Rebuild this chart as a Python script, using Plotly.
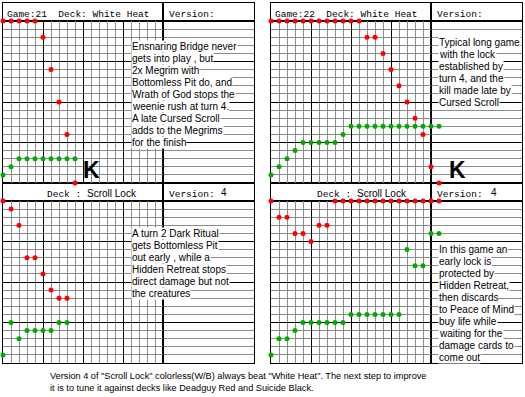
import plotly.graph_objects as go

W, H = 525, 397

# ---------------- data (life per turn) ----------------
g21_white_heat_red = [20, 20, 20, 20, 20, 18, 14, 10, 6, 0]
g21_white_heat_green = [1, 2, 3, 3, 3, 3, 3, 3, 3, 3]
g22_white_heat_red = [20, 20, 20, 20, 20, 20, 20, 20, 20, 20, 20, 20,
                      18, 18, 16, 14, 12, 10, 8, 6, 2, 0]
g22_white_heat_green = [1, 2, 3, 4, 5, 5, 5, 5, 5, 6, 7, 7, 7, 7, 7, 7,
                        7, 7, 7, 7, 7, 7]
g21_scroll_lock_red = [20, 19, 17, 13, 13, 11, 9, 8, 8]
g21_scroll_lock_green = [1, 5, 3, 4, 4, 4, 4, 5, 5]
g22_scroll_lock_red = [20, 18, 18, 16, 16, 15, 17, 17, 20, 20, 20, 20, 20,
                       20, 20, 20, 20, 20, 20, 20, 20, 20]
g22_scroll_lock_green = [1, 3, 3, 4, 5, 5, 5, 5, 5, 5, 6, 6, 6, 6, 6, 6, 6,
                         14, 12, 12, 16, 16]

top_header_left = ["Game:21  Deck: White Heat", "Game:22  Deck: White Heat"]
bottom_deck_label = "Deck :"
bottom_deck_name = "Scroll Lock"
version_label = "Version:"
bottom_version = "4"

notes_g21_top = ["Ensnaring Bridge never", "gets into play , but", "2x Megrim with",
                 "Bottomless Pit do, and", "Wrath of God stops the",
                 "weenie rush at turn 4.", "A late Cursed Scroll",
                 "adds to the Megrims", "for the finish"]
notes_g22_top = ["Typical long game", "with the lock", "established by",
                 "turn 4, and the", "kill made late by", "Cursed Scroll"]
notes_g21_bottom = ["A turn 2 Dark Ritual", "gets Bottomless Pit",
                    "out early , while a", "Hidden Retreat stops",
                    "direct damage but not", "the creatures"]
notes_g22_bottom = ["In this game an", "early lock is", "protected by",
                    "Hidden Retreat,", "then discards", "to Peace of Mind",
                    "buy life while", "waiting for the", "damage cards to",
                    "come out"]
caption_lines = ['Version 4 of "Scroll Lock" colorless(W/B) always beat "White Heat". The next step to improve',
                 'it is to tune it against decks like Deadguy Red and Suicide Black.']

RED = "#ff0000"
GREEN = "#00aa00"
GRAY = "#8c8c8c"
BLACK = "#000000"

# ---------------- layout geometry (pixels) ----------------
COL = 8           # pixels per turn column
GRID_W = 160      # 20 columns
TEXT_W = 91
HEAD_H = 18
GRID_H = 162

panels = [
    dict(x0=3, y0=3, red=g21_white_heat_red, green=g21_white_heat_green,
         top=True, head=top_header_left[0], notes=notes_g21_top,
         note_xy=(130.7, 46.7), k=(91, 170)),
    dict(x0=271, y0=3, red=g22_white_heat_red, green=g22_white_heat_green,
         top=True, head=top_header_left[1], notes=notes_g22_top,
         note_xy=(437.7, 42.7), k=(457, 170)),
    dict(x0=3, y0=183, red=g21_scroll_lock_red, green=g21_scroll_lock_green,
         top=False, notes=notes_g21_bottom, note_xy=(130.7, 233.3),
         deck_xy=(82.5, 85), ver_x=219),
    dict(x0=271, y0=183, red=g22_scroll_lock_red, green=g22_scroll_lock_green,
         top=False, notes=notes_g22_bottom, note_xy=(437.7, 249),
         deck_xy=(352.5, 354.7), ver_x=488.7),
]


def pxx(x):
    return x / W


def pxy(y):
    return 1 - y / H


fig = go.Figure()
layout = dict(width=W, height=H, margin=dict(l=0, r=0, t=0, b=0),
              autosize=False, showlegend=False, paper_bgcolor="white",
              plot_bgcolor="rgba(0,0,0,0)", hovermode=False)

box = dict(showline=True, mirror=True, linecolor=BLACK, linewidth=1,
           showticklabels=False, ticks="", zeroline=False, fixedrange=True)


def axname(kind, n):
    return kind + ("axis" if n == 1 else "axis%d" % n)


def ref(kind, n):
    return kind + ("" if n == 1 else str(n))


def add_sub(n, xdom, ydom, xa, ya, base=box):
    layout[axname("x", n)] = dict(base, domain=xdom, anchor=ref("y", n), **xa)
    layout[axname("y", n)] = dict(base, domain=ydom, anchor=ref("x", n), **ya)
    fig.add_trace(go.Scatter(x=[], y=[], xaxis=ref("x", n), yaxis=ref("y", n),
                             showlegend=False))


grid_y = dict(range=[0, 20], showgrid=True, gridcolor=BLACK, gridwidth=1,
              dtick=5, tick0=0, minor=dict(dtick=1, showgrid=True,
                                           gridcolor=GRAY, gridwidth=1),
              layer="below traces")
grid_x = dict(range=[0, 20], showgrid=True, gridcolor=BLACK, gridwidth=1,
              dtick=5, tick0=0, minor=dict(dtick=1, showgrid=True,
                                           gridcolor=GRAY, gridwidth=1),
              layer="below traces")
plain = dict(range=[0, 1], showgrid=False)
hidden = dict(showline=False, showgrid=False, showticklabels=False, ticks="",
              zeroline=False, fixedrange=True)

annotations = []
# text areas: 1-4; headers: 5-12; grids: 13-16; markers overlay: 17-20
for i, p in enumerate(panels):
    x0, y0 = p["x0"], p["y0"]
    gx = [pxx(x0), pxx(x0 + GRID_W)]
    tx = [pxx(x0 + GRID_W), pxx(x0 + GRID_W + TEXT_W)]
    gy = [pxy(y0 + HEAD_H + GRID_H), pxy(y0 + HEAD_H)]
    hy = [pxy(y0 + HEAD_H), pxy(y0)]
    add_sub(1 + i, tx, gy, dict(plain, showgrid=False), grid_y)
    add_sub(5 + i, gx, hy, plain, plain)
    add_sub(9 + i, tx, hy, plain, plain)

for i, p in enumerate(panels):
    x0, y0 = p["x0"], p["y0"]
    gx = [pxx(x0), pxx(x0 + GRID_W)]
    gy = [pxy(y0 + HEAD_H + GRID_H), pxy(y0 + HEAD_H)]
    add_sub(13 + i, gx, gy, grid_x, grid_y)

for i, p in enumerate(panels):
    x0, y0 = p["x0"], p["y0"]
    fx = [pxx(x0), pxx(x0 + GRID_W + TEXT_W)]
    gy = [pxy(y0 + HEAD_H + GRID_H), pxy(y0 + HEAD_H)]
    n = 17 + i
    add_sub(n, fx, gy, dict(range=[0, (GRID_W + TEXT_W) / COL]),
            dict(range=[0, 20]), base=hidden)
    for series, col in ((p["green"], GREEN), (p["red"], RED)):
        fig.add_trace(go.Scatter(
            x=list(range(len(series))), y=series, mode="markers",
            marker=dict(size=5, color=col, line=dict(width=0)),
            cliponaxis=False, xaxis=ref("x", n), yaxis=ref("y", n),
            showlegend=False))

for i, p in enumerate(panels):
    x0, y0 = p["x0"], p["y0"]
    # notes
    nx, ny = p["note_xy"]
    for j, line in enumerate(p["notes"]):
        annotations.append(dict(
            x=pxx(nx), y=pxy(ny + 12 * j), xref="paper", yref="paper",
            text=line, showarrow=False, xanchor="left", yanchor="middle",
            bgcolor="white", borderpad=0,
            font=dict(family="Liberation Sans", size=10, color=BLACK)))

    mono = dict(family="Liberation Mono", size=9.5, color=BLACK)
    if p["top"]:
        hyc = y0 + 11.5
        annotations.append(dict(x=pxx(x0 + 1.7), y=pxy(hyc), xref="paper",
                                yref="paper", text=p["head"], showarrow=False,
                                xanchor="left", yanchor="middle", font=mono))
        kx, ky = p["k"]
        annotations.append(dict(x=pxx(kx), y=pxy(ky), xref="paper",
                                yref="paper", text="<b>K</b>", showarrow=False,
                                xanchor="center", yanchor="middle",
                                font=dict(family="Liberation Sans", size=23,
                                          color=BLACK)))
    else:
        hyc = y0 + 11
        dx, nx2 = p["deck_xy"]
        annotations.append(dict(x=pxx(dx), y=pxy(hyc), xref="paper",
                                yref="paper", text=bottom_deck_label,
                                showarrow=False, xanchor="right",
                                yanchor="middle", font=mono))
        annotations.append(dict(x=pxx(nx2), y=pxy(hyc - 1), xref="paper",
                                yref="paper", text=bottom_deck_name,
                                showarrow=False, xanchor="left",
                                yanchor="middle",
                                font=dict(family="Liberation Sans", size=10,
                                          color=BLACK)))
        annotations.append(dict(x=pxx(p["ver_x"]), y=pxy(hyc - 1.5),
                                xref="paper", yref="paper",
                                text=bottom_version, showarrow=False,
                                xanchor="left", yanchor="middle",
                                font=dict(family="Liberation Sans", size=10,
                                          color=BLACK)))
    annotations.append(dict(x=pxx(x0 + GRID_W + 3.7), y=pxy(hyc),
                            xref="paper", yref="paper", text=version_label,
                            showarrow=False, xanchor="left", yanchor="middle",
                            font=mono))

for j, line in enumerate(caption_lines):
    annotations.append(dict(x=pxx(48.3), y=pxy(376 + 12 * j), xref="paper",
                            yref="paper", text=line, showarrow=False,
                            xanchor="left", yanchor="middle",
                            font=dict(family="Liberation Sans", size=9.2,
                                      color=BLACK)))

layout["annotations"] = annotations
fig.update_layout(**layout)
fig.write_html("out.html", config={"displayModeBar": False, "staticPlot": True})
